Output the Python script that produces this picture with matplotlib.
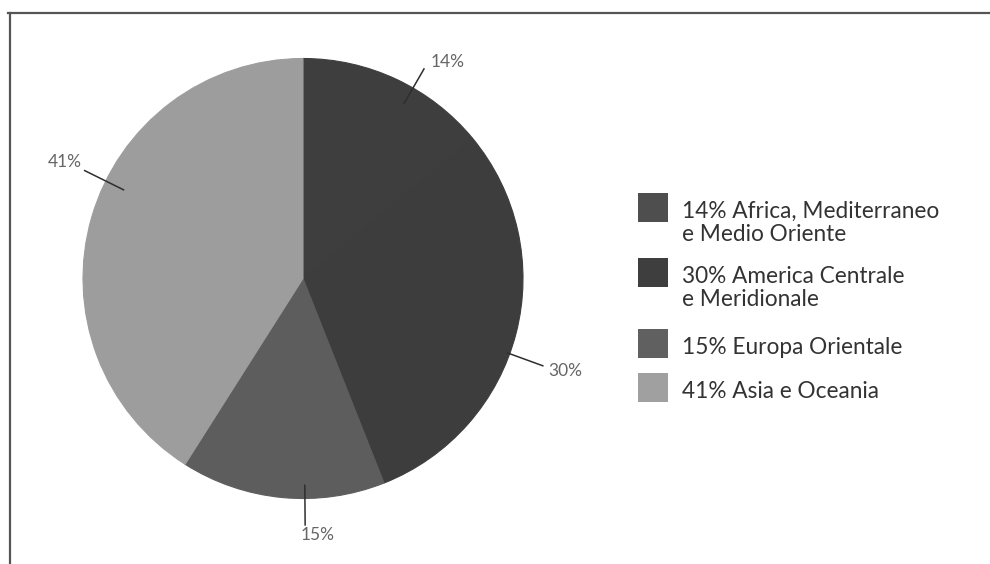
import numpy as np
import matplotlib.pyplot as plt
from matplotlib.patches import Rectangle

plt.rcParams['font.family'] = ['Lato', 'DejaVu Sans']

# dati
valori = [14, 30, 15, 41]
etichette = ['14%', '30%', '15%', '41%']
legenda = ['14% Africa, Mediterraneo\ne Medio Oriente',
           '30% America Centrale\ne Meridionale',
           '15% Europa Orientale',
           '41% Asia e Oceania']
colori = ['#3e3e3e', '#3d3d3d', '#5d5d5d', '#9d9d9d']
colori_legenda = ['#4e4e4e', '#3e3e3e', '#606060', '#a0a0a0']

fig = plt.figure(figsize=(9.9, 5.64), dpi=100)

# assi in pixel per cornice e legenda
bg = fig.add_axes([0, 0, 1, 1])
bg.set_xlim(0, 990)
bg.set_ylim(564, 0)
bg.axis('off')
bg.plot([8, 990], [13, 13], color='#555555', lw=1.6)
bg.plot([10, 10], [13, 564], color='#555555', lw=1.6)

# torta
cx, cy, r = 303, 278.5, 220
ax = fig.add_axes([(cx - r) / 990, (564 - cy - r) / 564, 2 * r / 990, 2 * r / 564])
spicchi, _ = ax.pie(valori, colors=colori, startangle=90, counterclock=False)
for w, c in zip(spicchi, colori):
    w.set_edgecolor(c)
    w.set_linewidth(0.8)
ax.set_xlim(-1, 1)
ax.set_ylim(-1, 1)
ax.axis('off')

# linee delle etichette
ang = [60, -20, -89.5, 153.7]
r0 = [0.92, 0.99, 0.94, 0.91]
r1 = [1.10, 1.16, 1.12, 1.107]
testo_xy = [(0.58, 0.984, 'left'), (1.114, -0.42, 'left'),
            (0.068, -1.166, 'center'), (-1.005, 0.53, 'right')]
for i, lab in enumerate(etichette):
    a = np.radians(ang[i])
    ax.plot([r0[i] * np.cos(a), r1[i] * np.cos(a)],
            [r0[i] * np.sin(a), r1[i] * np.sin(a)],
            color='#2e2e2e', lw=1.1, clip_on=False)
    tx, ty, ha = testo_xy[i]
    ax.text(tx, ty, lab, ha=ha, va='center', fontsize=12.5,
            color='#666666', clip_on=False)

# legenda
quadri_y = [193, 258, 329, 373]
for i, lab in enumerate(legenda):
    y = quadri_y[i]
    bg.add_patch(Rectangle((638, y), 30, 29, color=colori_legenda[i], lw=0))
    bg.text(682, y + 8, lab, ha='left', va='top', fontsize=16.3,
            color='#333333', linespacing=1.12)

fig.savefig('out.png', dpi=100)
